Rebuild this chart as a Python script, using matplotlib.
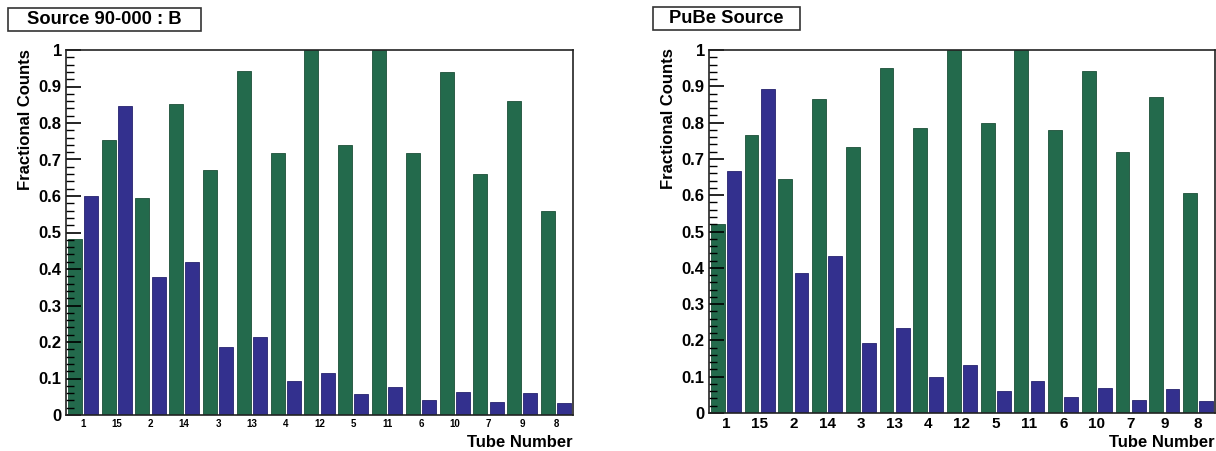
import matplotlib.pyplot as plt
from matplotlib.patches import Rectangle
from matplotlib.ticker import MultipleLocator
import numpy as np

plt.rcParams['font.family'] = ['Liberation Sans', 'DejaVu Sans']

# Tube order along the x axis
tubes = ['1', '15', '2', '14', '3', '13', '4', '12', '5', '11', '6', '10', '7', '9', '8']

# Source 90-000 : B
src_green = [0.481, 0.753, 0.595, 0.853, 0.672, 0.942, 0.718, 1.0,
             0.739, 1.0, 0.718, 0.94, 0.66, 0.859, 0.56]
src_blue = [0.601, 0.847, 0.377, 0.418, 0.185, 0.213, 0.094, 0.114,
            0.057, 0.078, 0.041, 0.063, 0.035, 0.061, 0.034]

# PuBe Source
pube_green = [0.52, 0.765, 0.645, 0.864, 0.733, 0.951, 0.785, 1.0,
              0.80, 1.0, 0.78, 0.943, 0.719, 0.871, 0.607]
pube_blue = [0.667, 0.892, 0.387, 0.432, 0.194, 0.233, 0.10, 0.132,
             0.061, 0.088, 0.045, 0.07, 0.036, 0.066, 0.033]

GREEN = '#236a4c'
BLUE = '#33308e'


def draw_panel(ax, green, blue, xtick_size):
    x = np.arange(len(tubes))
    ax.bar(x - 0.24, green, width=0.41, color=GREEN, edgecolor='#1b4f38', linewidth=0.6)
    ax.bar(x + 0.24, blue, width=0.41, color=BLUE, edgecolor='#26226e', linewidth=0.6)
    ax.set_xlim(-0.5, len(tubes) - 0.5)
    ax.set_ylim(0, 1)
    ax.set_xticks(x)
    ax.set_xticklabels(tubes, fontsize=xtick_size, fontweight='bold')
    ax.tick_params(axis='x', length=0, pad=3)
    ax.yaxis.set_major_locator(MultipleLocator(0.1))
    ax.yaxis.set_minor_locator(MultipleLocator(0.02))
    ax.set_yticks(np.arange(0, 1.01, 0.1))
    ax.set_yticklabels(['0', '0.1', '0.2', '0.3', '0.4', '0.5', '0.6', '0.7', '0.8', '0.9', '1'],
                       fontsize=12, fontweight='bold')
    ax.tick_params(axis='y', which='major', direction='in', length=11, width=1.2, pad=3)
    ax.tick_params(axis='y', which='minor', direction='in', length=5.5, width=1.0)
    for s in ax.spines.values():
        s.set_color('#222222')
        s.set_linewidth(1.2)
    ax.set_ylabel('Fractional Counts', fontsize=12, fontweight='bold')


fig = plt.figure(figsize=(12.16, 4.51), dpi=100)

ax1 = fig.add_axes([66 / 1216, 36 / 451, 507 / 1216, 365 / 451])
draw_panel(ax1, src_green, src_blue, 7)
ax1.yaxis.set_label_coords(-0.065, 0.81)
ax1.text(1.0, -0.075, 'Tube Number', transform=ax1.transAxes, ha='right', va='center',
         fontsize=12, fontweight='bold')

ax2 = fig.add_axes([709 / 1216, 38 / 451, 506 / 1216, 363 / 451])
draw_panel(ax2, pube_green, pube_blue, 11)
ax2.yaxis.set_label_coords(-0.065, 0.81)
ax2.text(1.0, -0.08, 'Tube Number', transform=ax2.transAxes, ha='right', va='center',
         fontsize=12, fontweight='bold')

# Title boxes
for (x0, y0, x1, y1, label) in [(8, 8, 201, 31, 'Source 90-000 : B'),
                                 (653, 7, 800, 30, 'PuBe Source')]:
    fig.patches.append(Rectangle((x0 / 1216, 1 - y1 / 451), (x1 - x0) / 1216, (y1 - y0) / 451,
                                 transform=fig.transFigure, facecolor='white',
                                 edgecolor='#333333', linewidth=1.2))
    fig.text((x0 + x1) / 2 / 1216, 1 - (y0 + y1) / 2 / 451, label, ha='center', va='center',
             fontsize=13.2, fontweight='bold')

fig.savefig('out.png', dpi=100)
